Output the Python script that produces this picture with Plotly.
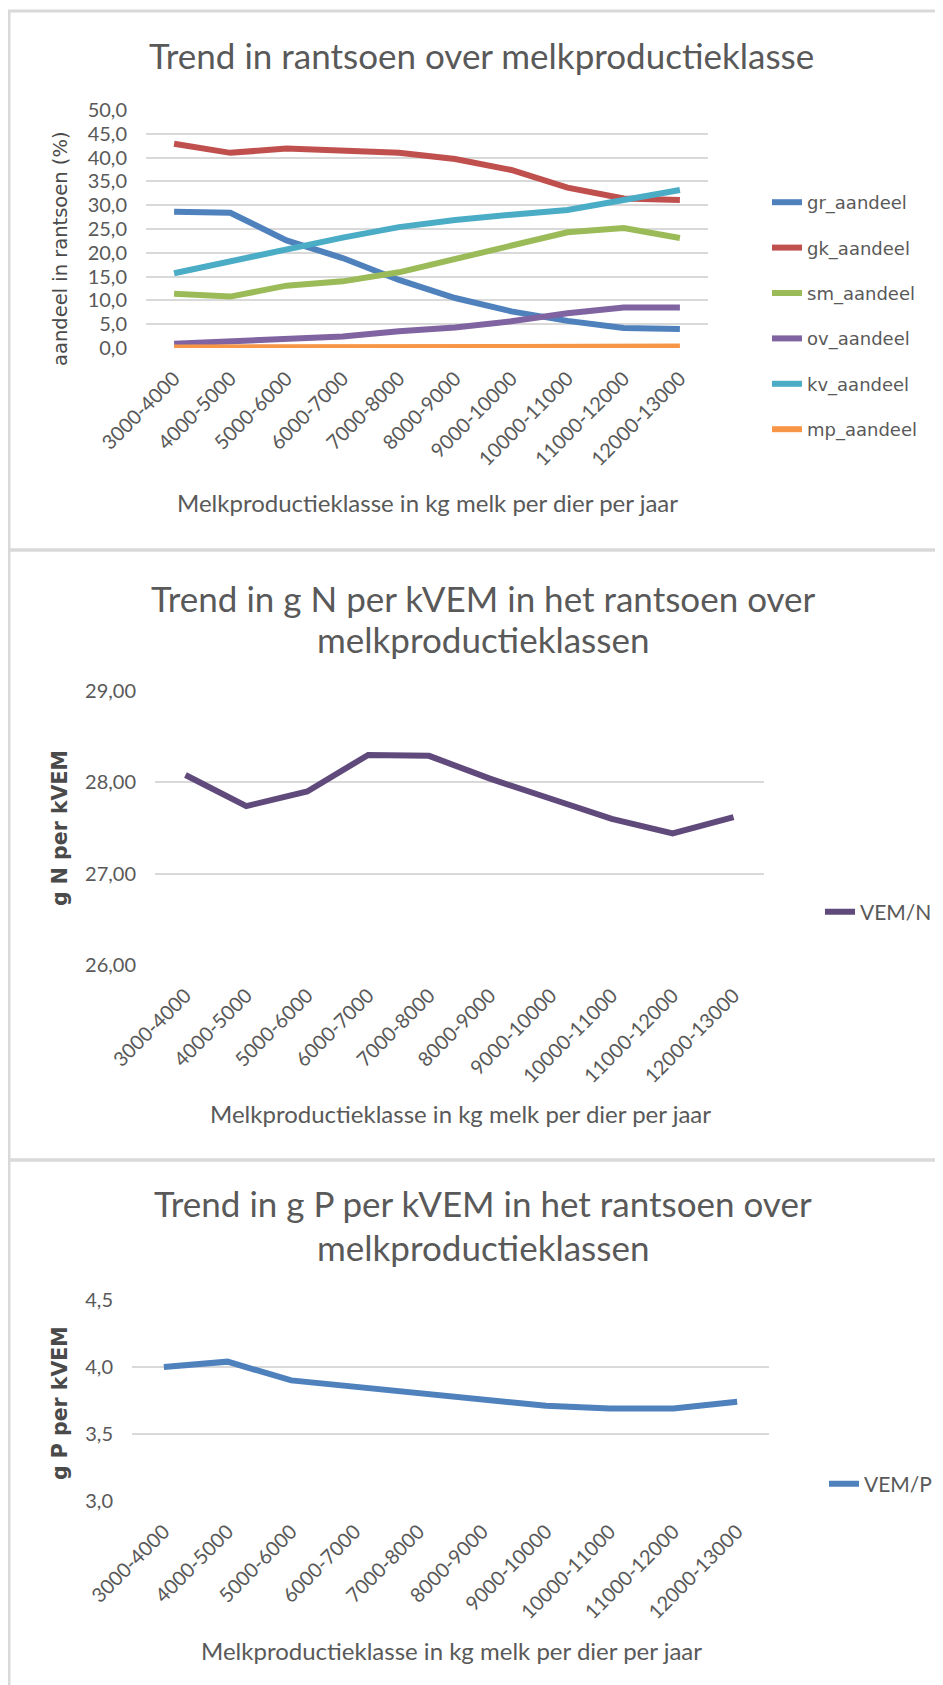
import plotly.graph_objects as go

# page offset (browser body margin) compensation
OFF = 8
W, H = 943 - OFF, 1685 - OFF

categories = ["3000-4000", "4000-5000", "5000-6000", "6000-7000", "7000-8000",
              "8000-9000", "9000-10000", "10000-11000", "11000-12000", "12000-13000"]

gr_aandeel = [28.6, 28.4, 22.6, 18.9, 14.3, 10.5, 7.7, 5.7, 4.2, 4.0]
gk_aandeel = [42.9, 41.0, 41.9, 41.6, 41.0, 39.7, 37.4, 33.7, 31.4, 31.1]
sm_aandeel = [11.4, 10.8, 13.1, 14.0, 15.9, 18.7, 21.5, 24.3, 25.2, 23.1]
ov_aandeel = [0.9, 1.3, 1.8, 2.4, 3.5, 4.3, 5.6, 7.3, 8.5, 8.5]
kv_aandeel = [15.7, 18.2, 20.8, 23.2, 25.4, 26.9, 28.0, 29.0, 31.1, 33.2]
mp_aandeel = [0.1, 0.1, 0.1, 0.1, 0.1, 0.1, 0.2, 0.3, 0.3, 0.3]

vem_n = [28.08, 27.74, 27.90, 28.30, 28.29, 28.04, 27.82, 27.60, 27.44, 27.62]
vem_p = [4.00, 4.04, 3.90, 3.85, 3.80, 3.75, 3.71, 3.69, 3.69, 3.74]

ticks_top = [0, 5, 10, 15, 20, 25, 30, 35, 40, 45, 50]
ticks_top_text = ["0,0", "5,0", "10,0", "15,0", "20,0", "25,0", "30,0", "35,0", "40,0", "45,0", "50,0"]
ticks_mid = [26, 27, 28, 29]
ticks_mid_text = ["26,00", "27,00", "28,00", "29,00"]
ticks_bot = [3.0, 3.5, 4.0, 4.5]
ticks_bot_text = ["3,0", "3,5", "4,0", "4,5"]

top_series = [
    ("gr_aandeel", gr_aandeel, "#4F81BD"),
    ("gk_aandeel", gk_aandeel, "#C0504D"),
    ("sm_aandeel", sm_aandeel, "#9BBB59"),
    ("ov_aandeel", ov_aandeel, "#8064A2"),
    ("kv_aandeel", kv_aandeel, "#4BACC6"),
    ("mp_aandeel", mp_aandeel, "#F79646"),
]

CAL = "Lato, 'Liberation Sans Narrow', sans-serif"
VER = "'DejaVu Sans', Verdana, sans-serif"
GREY = "#595959"
GRID = "#D9D9D9"


def px(x):
    return (x - OFF) / W


def py(y):
    return 1 - (y - OFF) / H


fig = go.Figure()

for i, (name, vals, col) in enumerate(top_series):
    fig.add_trace(go.Scatter(x=categories, y=vals, name=name, mode="lines",
                             line=dict(color=col, width=6), xaxis="x", yaxis="y",
                             legend="legend", legendgroup=name))

fig.add_trace(go.Scatter(x=categories, y=vem_n, name="VEM/N", mode="lines",
                         line=dict(color="#604A7B", width=6), xaxis="x2", yaxis="y2",
                         legend="legend2"))
fig.add_trace(go.Scatter(x=categories, y=vem_p, name="VEM/P", mode="lines",
                         line=dict(color="#4F81BD", width=6), xaxis="x3", yaxis="y3",
                         legend="legend3"))


def xaxis(dom, anchor):
    return dict(domain=[px(dom[0]), px(dom[1])], anchor=anchor, type="category",
                range=[-0.5, 9.5], tickangle=-45, showgrid=False, showline=False,
                zeroline=False, ticks="", ticklabelstandoff=14,
                tickfont=dict(family=CAL, size=20, color=GREY))


def yaxis(dom, anchor, rng, tv, tt):
    return dict(domain=[py(dom[1]), py(dom[0])], anchor=anchor, range=rng,
                tickvals=tv, ticktext=tt, showgrid=True, gridcolor=GRID, gridwidth=2,
                zeroline=False, showline=False, ticks="", ticklabelstandoff=18,
                tickfont=dict(family=CAL, size=20, color=GREY))


annotations = []


def ann(text, x, y, size, family=CAL, color=GREY, angle=0, weight="normal"):
    annotations.append(dict(text=text, x=px(x), y=py(y), xref="paper", yref="paper",
                            showarrow=False, xanchor="center", yanchor="middle",
                            textangle=angle,
                            font=dict(family=family, size=size, color=color, weight=weight)))


# titles
ann("Trend in rantsoen over melkproductieklasse", 481, 55, 35)
ann("Trend in g N per kVEM in het rantsoen over", 483, 598, 35)
ann("melkproductieklassen", 483, 639, 35)
ann("Trend in g P per kVEM in het rantsoen over", 483, 1203, 35)
ann("melkproductieklassen", 483, 1247, 35)
# x titles
xt = "Melkproductieklasse in kg melk per dier per jaar"
ann(xt, 427, 502, 24)
ann(xt, 460, 1113, 24)
ann(xt, 451, 1650, 24)
# y titles
ann("aandeel in rantsoen (%)", 60, 249, 19.5, VER, "#4A4A4A", -90)
ann("<b>g N per kVEM</b>", 60, 828, 20.5, VER, "#4A4A4A", -90)
ann("<b>g P per kVEM</b>", 60, 1403, 20.5, VER, "#4A4A4A", -90)

shapes = []
for (y0, y1) in [(11, 550), (550, 1160), (1160, 1700)]:
    shapes.append(dict(type="rect", xref="paper", yref="paper",
                       x0=px(9), x1=px(960), y0=py(y1), y1=py(y0),
                       line=dict(color="#D9D9D9", width=3), fillcolor="rgba(0,0,0,0)"))

fig.update_layout(
    width=W, height=H,
    margin=dict(l=0, r=0, t=0, b=0, autoexpand=False),
    paper_bgcolor="white", plot_bgcolor="white",
    xaxis=xaxis((146, 708), "y"),
    yaxis=yaxis((110, 348), "x", [0, 50], ticks_top, ticks_top_text),
    xaxis2=xaxis((155, 764), "y2"),
    yaxis2=yaxis((691, 965), "x2", [26, 29], ticks_mid, ticks_mid_text),
    xaxis3=xaxis((132, 769), "y3"),
    yaxis3=yaxis((1300, 1501), "x3", [3.0, 4.5], ticks_bot, ticks_bot_text),
    legend=dict(x=px(767), y=py(184), xanchor="left", yanchor="top",
                traceorder="grouped", tracegroupgap=19, bgcolor="rgba(0,0,0,0)",
                font=dict(family=VER, size=18, color=GREY), itemwidth=30),
    legend2=dict(x=px(820), y=py(912), xanchor="left", yanchor="middle",
                 bgcolor="rgba(0,0,0,0)", font=dict(family=CAL, size=21, color=GREY)),
    legend3=dict(x=px(824), y=py(1484), xanchor="left", yanchor="middle",
                 bgcolor="rgba(0,0,0,0)", font=dict(family=CAL, size=21, color=GREY)),
    annotations=annotations,
    shapes=shapes,
)

fig.write_html("out.html")
